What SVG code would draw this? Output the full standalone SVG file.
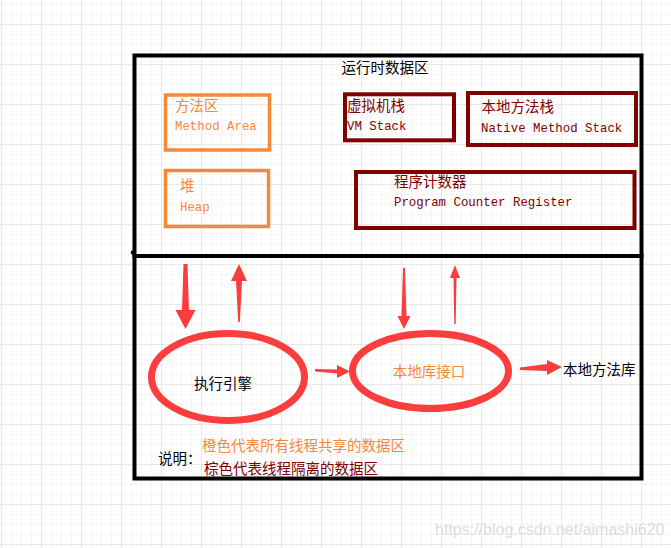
<svg xmlns="http://www.w3.org/2000/svg" width="671" height="548" viewBox="0 0 671 548">
<defs>
<pattern id="grid" patternUnits="userSpaceOnUse" x="1" y="24" width="40" height="40">
<path d="M10.5 0V40M20.5 0V40M30.5 0V40M0 10.5H40M0 20.5H40M0 30.5H40" stroke="#f5f5f5" stroke-width="1" fill="none"/>
<path d="M0.5 0V40M0 0.5H40" stroke="#e9e9e9" stroke-width="1" fill="none"/>
</pattern>
</defs>
<style>
.frame{fill:none;stroke:#000;stroke-width:4}
.shared{fill:none;stroke:#f5893a;stroke-width:3.5}
.private{fill:none;stroke:#800000;stroke-width:4}
.ell{fill:none;stroke:#fa3d3d;stroke-width:7}
.arrow{fill:#fa3d3d}
.cjk{font-family:"Noto Sans CJK SC","Noto Sans",sans-serif;font-size:14.5px}
.mono{font-family:"Liberation Mono","DejaVu Sans Mono",monospace;font-size:12.4px}
.or{fill:#f5893a}
.br{fill:#800000}
.bk{fill:#000}
</style>
<rect width="671" height="548" fill="#fff"/>
<rect width="671" height="548" fill="url(#grid)"/>

<g id="runtime-data-area">
<rect class="frame" x="134.5" y="55.5" width="507" height="200.5"/>
<text class="cjk bk" x="341.5" y="73">运行时数据区</text>
</g>
<g id="lower-area">
<rect class="frame" x="134.5" y="256" width="507" height="222.5"/>
<circle cx="133" cy="252.5" r="2.3" fill="#000"/>
</g>

<g id="method-area">
<rect class="shared" x="165.5" y="95" width="104" height="55"/>
<text class="cjk or" x="175" y="111">方法区</text>
<text class="mono or" x="175" y="130">Method Area</text>
</g>
<g id="heap">
<rect class="shared" x="165.5" y="170.5" width="103" height="56"/>
<text class="cjk or" x="180" y="191">堆</text>
<text class="mono or" x="180" y="211">Heap</text>
</g>
<g id="vm-stack">
<rect class="private" x="345" y="94.3" width="109" height="46"/>
<text class="cjk br" x="347" y="111">虚拟机栈</text>
<text class="mono br" x="347" y="130">VM Stack</text>
</g>
<g id="native-method-stack">
<rect class="private" x="468" y="93" width="168" height="52"/>
<text class="cjk br" x="481.5" y="111.5">本地方法栈</text>
<text class="mono br" x="481" y="131.5">Native Method Stack</text>
</g>
<g id="program-counter-register">
<rect class="private" x="356" y="172" width="278.5" height="56"/>
<text class="cjk br" x="394" y="186.5">程序计数器</text>
<text class="mono br" x="394" y="205.5">Program Counter Register</text>
</g>

<g id="execution-engine">
<ellipse class="ell" cx="228" cy="377" rx="76.5" ry="43.5"/>
<text class="cjk bk" x="223" y="389" text-anchor="middle">执行引擎</text>
</g>
<g id="native-interface">
<ellipse class="ell" cx="430.5" cy="371" rx="78" ry="37.5"/>
<text class="cjk or" x="429" y="377" text-anchor="middle">本地库接口</text>
</g>
<g id="native-library">
<text class="cjk bk" x="563" y="375">本地方法库</text>
</g>

<g id="connectors">
<polygon class="arrow" points="183.5,264 187.5,264 189,310 195.5,310 185.5,329 175.5,310 182,310"/>
<polygon class="arrow" points="239,264 247,281 242,281 239.8,322 238.2,322 236,281 231,281"/>
<polygon class="arrow" points="403,268 405,268 406.5,316 410.5,316 404,329 397.5,316 401.5,316"/>
<polygon class="arrow" points="455,265 460,278 456.5,278 455.7,324 454.3,324 453.5,278 450,278"/>
<polygon class="arrow" points="315,369 315,371.5 337,373.5 337,378 350,371.5 337,365 337,369.5"/>
<polygon class="arrow" points="520,367.5 520,370 547,371 547,375 562,367 547,360 547,364"/>
</g>

<g id="legend">
<text class="cjk bk" x="158" y="464">说明：</text>
<text class="cjk or" x="202" y="451">橙色代表所有线程共享的数据区</text>
<text class="cjk br" x="204" y="474">棕色代表线程隔离的数据区</text>
</g>

<text x="435" y="535" font-family="Liberation Sans, Arial, sans-serif" font-size="16" fill="#dcdcdc">https://blog.csdn.net/aimashi620</text>
</svg>
